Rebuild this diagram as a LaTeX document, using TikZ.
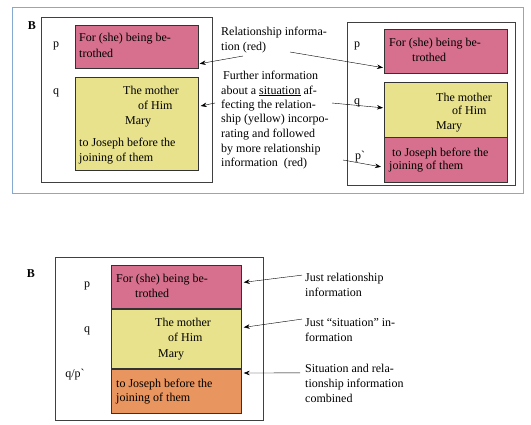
\documentclass[tikz,border=0pt]{standalone}
\usepackage{fontspec}
\setmainfont{Liberation Serif}
\usetikzlibrary{arrows.meta,calc}
\definecolor{relPink}{HTML}{D6708E}
\definecolor{sitYellow}{HTML}{E8E28C}
\definecolor{mixOrange}{HTML}{E9955F}
\definecolor{frameBlue}{HTML}{86A9D2}

\tikzset{
  box/.style={draw=black!80, line width=0.7pt, inner sep=0pt, anchor=north west},
  txt/.style={anchor=base west, inner sep=0pt},
  lbl/.style={anchor=base, inner sep=0pt},
}

\begin{document}
\begin{tikzpicture}[x=1pt, y=-1pt, >={Stealth[length=6pt,width=4.5pt]},
    font=\fontsize{12}{15}\selectfont]
  \useasboundingbox (0,0) rectangle (531,424);
  % upper panel
  \draw[frameBlue, line width=0.8pt] (12,7) rectangle (523,193);
  \draw[black!75, line width=0.6pt] (41,17) rectangle (212,182);
  \draw[black!75, line width=0.6pt] (347,22) rectangle (515,185);
  \node[lbl, font=\fontsize{12}{15}\selectfont\bfseries] (bt) at (32,29) {B};

  \node[box, fill=relPink, minimum width=123pt, minimum height=43pt] (rl) at (75,25) {};
  \node[box, fill=sitYellow, minimum width=123pt, minimum height=93pt] (yl) at (75,77) {};
  \node[box, fill=relPink, minimum width=123pt, minimum height=44pt] (rr) at (384,29) {};
  \node[box, fill=sitYellow, minimum width=123pt, minimum height=55pt] (yr) at (384,82) {};
  \node[box, fill=relPink, minimum width=123pt, minimum height=45pt] (pr) at (384,137) {};

  \node[lbl] (pl) at (56,47) {p};
  \node[lbl] (ql) at (56,94) {q};
  \node[lbl] (pR) at (357,47) {p};
  \node[lbl] (qR) at (357,104) {q};
  \node[lbl] (ppR) at (360,159) {p\textasciigrave};

  \foreach \i/\x/\y/\t in {1/79/41/{For (she) being be-}, 2/79/57/{trothed},
      3/123/94/{The mother}, 4/138/109/{of Him}, 5/125/124/{Mary},
      6/79/146/{to Joseph before the}, 7/79/161/{joining of them}}
    \node[txt] (l\i) at (\x,\y) {\t};
  \foreach \i/\x/\y/\t in {1/389/46/{For (she) being be-}, 2/412/61/{trothed},
      3/436/101/{The mother}, 4/452/114/{of Him}, 5/436/129/{Mary},
      6/392/156/{to Joseph before the}, 7/389/169/{joining of them}}
    \node[txt] (r\i) at (\x,\y) {\t};

  \node[txt] (m1) at (221,35) {Relationship informa-};
  \node[txt] (m2) at (221,50) {tion (red)};
  \foreach \i/\y/\t in {3/79/{Further information},
      4/94/{about a \underline{situation} af-}, 5/108/{fecting the relation-},
      6/122/{ship (yellow) incorpo-}, 7/137/{rating and followed},
      8/152/{by more relationship}, 9/166/{information\ \ (red)}}
    \node[txt] (m\i) at (\ifnum\i=3 223\else 221\fi,\y) {\t};

  \coordinate (a1) at (243,56);
  \coordinate (a2) at (215,103);
  \coordinate (a3) at (290,52);
  \coordinate (a4) at (332,103);
  \coordinate (a5) at (343,160);
  \draw[->] (a1) -- ($(rl.south east)+(1,-5)$);
  \draw[->] (a2) -- ($(yl.north east)+(2,29)$);
  \draw[->] (a3) -- ($(rr.south west)+(-1,-6)$);
  \draw[->] (a4) -- ($(yr.west)+(-1,-2)$);
  \draw[->] (a5) -- ($(pr.west)+(-3,7)$);

  % lower panel
  \draw[black!75, line width=0.6pt] (55,257) rectangle (263,420);
  \node[lbl, font=\fontsize{12}{15}\selectfont\bfseries] (bb) at (31,277) {B};
  \node[box, fill=relPink, minimum width=130pt, minimum height=44pt] (rb) at (111,265) {};
  \node[box, fill=sitYellow, minimum width=130pt, minimum height=60pt] (yb) at (111,309) {};
  \node[box, fill=mixOrange, minimum width=130pt, minimum height=44pt] (ob) at (111,369) {};
  \draw[black!80, line width=1.1pt] (yb.north west) -- (yb.north east);
  \draw[black!80, line width=1.1pt] (ob.north west) -- (ob.north east);

  \node[lbl] (pb) at (87,287) {p};
  \node[lbl] (qb) at (87,332) {q};
  \node[lbl] (qpb) at (75,377) {q/p\textasciigrave};

  \foreach \i/\x/\y/\t in {1/116/282/{For (she) being be-}, 2/135/297/{trothed},
      3/155/326/{The mother}, 4/168/341/{of Him}, 5/158/357/{Mary},
      6/116/387/{to Joseph before the}, 7/116/401/{joining of them}}
    \node[txt] (b\i) at (\x,\y) {\t};

  \foreach \i/\y/\t in {1/281/{Just relationship}, 2/296/{information},
      3/326/{Just ``situation'' in-}, 4/341/{formation},
      5/372/{Situation and rela-}, 6/387/{tionship information}, 7/402/{combined}}
    \node[txt] (n\i) at (305,\y) {\t};

  \draw[->] ($(n1.west)+(-3,-3)$) -- ($(rb.east)+(2,-5)$);
  \draw[->] ($(n3.west)+(-3,-3)$) -- ($(yb.east)+(2,-12)$);
  \draw[->] ($(n5.west)+(-5,5)$) -- ($(ob.north east)+(2,4)$);
\end{tikzpicture}
\end{document}
